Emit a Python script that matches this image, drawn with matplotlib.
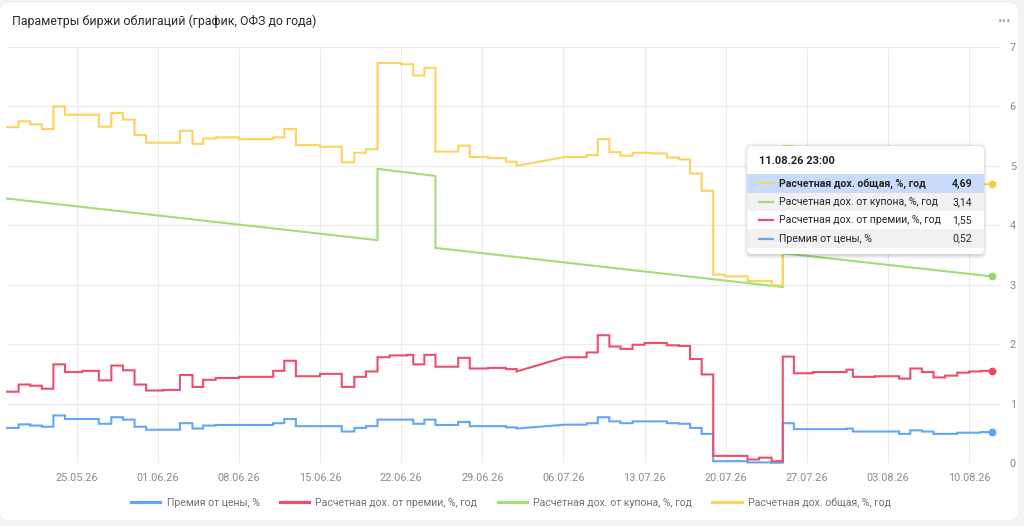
import matplotlib
matplotlib.use('Agg')
import matplotlib.pyplot as plt
import matplotlib.dates as mdates
from matplotlib.patches import FancyBboxPatch, Rectangle
from matplotlib.lines import Line2D
from matplotlib.transforms import IdentityTransform
import pandas as pd

plt.rcParams['font.family'] = ['Roboto', 'DejaVu Sans']

# ---------------- data ----------------
TITLE = 'Параметры биржи облигаций (график, ОФЗ до года)'
TOOLTIP_TIME = '11.08.26 23:00'
names = ['Премия от цены, %',
         'Расчетная дох. от премии, %, год',
         'Расчетная дох. от купона, %, год',
         'Расчетная дох. общая, %, год']
colors = ['#62a7f4', '#ec4f6e', '#a2dd76', '#fbd45f']
marker_colors = ['#5aa2f2', '#ea4665', '#98d66b', '#f9c94a']

# Расчетная дох. общая (step series)
total_t = ['05-19 00', '05-20 00', '05-21 00', '05-22 00', '05-23 00', '05-24 00',
           '05-26 22', '05-28 00', '05-29 00', '05-30 00', '05-31 00', '06-02 22',
           '06-04 00', '06-04 22', '06-06 00', '06-08 00', '06-10 23', '06-11 22',
           '06-12 22', '06-15 00', '06-16 21', '06-17 23', '06-18 23', '06-19 23',
           '06-22 00', '06-23 01', '06-24 00', '06-24 23', '06-26 22', '06-27 22',
           '06-29 12', '07-01 01', '07-01 23', '07-06 03', '07-08 00', '07-08 23',
           '07-09 23', '07-10 22', '07-11 23', '07-13 12', '07-14 22', '07-15 23',
           '07-16 22', '07-17 22', '07-18 22', '07-19 22', '07-21 21', '07-23 23',
           '07-24 22', '07-25 21', '07-30 10', '07-30 23', '08-01 21', '08-03 23',
           '08-04 22', '08-05 22', '08-06 22', '08-07 22', '08-08 23', '08-11 00',
           '08-11 23']
total_v = [5.65, 5.75, 5.70, 5.62, 6.00, 5.86,
           5.66, 5.89, 5.78, 5.52, 5.39, 5.59,
           5.37, 5.46, 5.48, 5.45, 5.48, 5.62,
           5.35, 5.32, 5.06, 5.22, 5.28, 6.73,
           6.71, 6.52, 6.65, 5.24, 5.34, 5.15,
           5.13, 5.07, 5.00, 5.15, 5.18, 5.45,
           5.23, 5.17, 5.22, 5.21, 5.14, 5.11,
           4.87, 4.58, 3.17, 3.14, 3.06, 2.99,
           5.33, 5.04, 5.08, 4.96, 4.97, 4.90,
           5.06, 4.99, 4.89, 4.91, 4.83, 4.69,
           4.69]

# Расчетная дох. от премии (step series)
prem_t = ['05-19 00', '05-20 00', '05-21 00', '05-22 00', '05-23 00', '05-24 00',
          '05-25 12', '05-26 22', '05-28 00', '05-29 00', '05-30 00', '05-31 00',
          '06-01 12', '06-02 22', '06-04 00', '06-04 22', '06-06 00', '06-08 00',
          '06-10 23', '06-11 22', '06-12 22', '06-15 00', '06-16 21', '06-17 23',
          '06-18 23', '06-19 23', '06-21 00', '06-22 12', '06-23 01', '06-24 00',
          '06-24 23', '06-26 22', '06-27 22', '06-29 12', '07-01 01', '07-01 23',
          '07-06 03', '07-08 00', '07-08 23', '07-09 23', '07-10 22', '07-11 23',
          '07-13 00', '07-14 22', '07-15 23', '07-16 22', '07-17 22', '07-18 22',
          '07-21 21', '07-22 21', '07-23 23', '07-24 22', '07-25 21', '07-27 12',
          '07-30 10', '07-30 23', '08-01 21', '08-03 23', '08-04 22', '08-05 22',
          '08-06 22', '08-07 22', '08-08 23', '08-10 00', '08-11 00', '08-11 23']
prem_v = [1.20, 1.32, 1.30, 1.25, 1.66, 1.53,
          1.55, 1.39, 1.64, 1.56, 1.32, 1.22,
          1.23, 1.48, 1.28, 1.40, 1.43, 1.45,
          1.55, 1.72, 1.46, 1.50, 1.28, 1.45,
          1.54, 1.78, 1.81, 1.82, 1.66, 1.82,
          1.62, 1.77, 1.59, 1.60, 1.58, 1.54,
          1.78, 1.86, 2.15, 1.96, 1.92, 1.99,
          2.02, 1.98, 1.97, 1.75, 1.49, 0.12,
          0.06, 0.09, 0.03, 1.79, 1.51, 1.53,
          1.57, 1.45, 1.46, 1.42, 1.59, 1.53,
          1.44, 1.47, 1.52, 1.54, 1.55, 1.55]

# Премия от цены (step series)
price_t = ['05-19 00', '05-20 00', '05-21 00', '05-22 00', '05-23 00', '05-24 00',
           '05-26 22', '05-28 00', '05-29 00', '05-30 00', '05-31 00', '06-02 22',
           '06-04 00', '06-04 22', '06-06 00', '06-10 23', '06-11 22', '06-12 22',
           '06-16 21', '06-17 23', '06-18 23', '06-19 23', '06-23 01', '06-24 00',
           '06-24 23', '06-26 22', '06-27 22', '07-01 01', '07-01 23', '07-06 03',
           '07-08 00', '07-08 23', '07-09 23', '07-10 22', '07-11 23', '07-14 22',
           '07-15 23', '07-16 22', '07-17 22', '07-18 22', '07-21 21', '07-23 23',
           '07-24 22', '07-25 21', '07-30 10', '07-30 23', '08-03 23', '08-04 22',
           '08-05 22', '08-06 22', '08-08 23', '08-11 00', '08-11 23']
price_v = [0.59, 0.65, 0.63, 0.61, 0.80, 0.74,
           0.66, 0.77, 0.73, 0.61, 0.56, 0.67,
           0.58, 0.63, 0.64, 0.67, 0.74, 0.62,
           0.53, 0.59, 0.62, 0.73, 0.66, 0.73,
           0.64, 0.69, 0.62, 0.60, 0.58, 0.645,
           0.67, 0.77, 0.70, 0.67, 0.70, 0.67,
           0.66, 0.59, 0.49, 0.03, 0.01, 0.005,
           0.67, 0.57, 0.58, 0.53, 0.49, 0.55,
           0.53, 0.49, 0.51, 0.52, 0.52]

# Расчетная дох. от купона (piecewise linear, jumps as repeated times)
coupon_t = ['05-19 00', '06-19 23', '06-19 23', '06-24 23', '06-24 23',
            '07-24 22', '07-24 22', '08-11 23']
coupon_v = [4.45, 3.75, 4.95, 4.83, 3.62, 2.96, 3.53, 3.14]

# data gap: the value at this time is reached by a straight line
linear_times = {'07-06 03'}

YEAR = '2026-'


def to_dt(ts):
    return pd.to_datetime([YEAR + t + ':00' for t in ts])


def step_xy(times, vals):
    xs, ys = [], []
    for i, (t, v) in enumerate(zip(times, vals)):
        if i > 0 and t not in linear_times:
            xs.append(t)
            ys.append(vals[i - 1])
        xs.append(t)
        ys.append(v)
    return to_dt(xs), ys


# ---------------- figure ----------------
W, H = 1024, 526
fig = plt.figure(figsize=(W / 100, H / 100), dpi=100)
fig.patch.set_facecolor('#f2f3f5')
ID = IdentityTransform()


def Y(y):
    return H - y


card = FancyBboxPatch((0, Y(520)), 1018, 517,
                      boxstyle='round,pad=0,rounding_size=9',
                      transform=ID, fc='white', ec='none', zorder=-10)
fig.add_artist(card)

fig.text(12, Y(21), TITLE, transform=ID, fontsize=8.9, color='#2b2b2b',
         va='center', ha='left')
fig.text(1005, Y(21), '•••', transform=ID, fontsize=5.5, color='#9a9a9a',
         va='center', ha='center', family='DejaVu Sans')

ax = fig.add_axes([7 / W, 1 - 463 / H, 993 / W, 416 / H])
ax.set_facecolor('none')
for s in ax.spines.values():
    s.set_visible(False)
ax.set_ylim(0, 7)
ax.set_xlim(pd.Timestamp('2026-05-19 00:00'), pd.Timestamp('2026-08-12 15:40'))
ax.yaxis.tick_right()
ax.set_yticks(range(0, 8))
ax.tick_params(axis='y', length=0, pad=7, labelsize=7.8, labelcolor='#8a8a8a')
ax.xaxis.set_major_locator(mdates.WeekdayLocator(byweekday=mdates.MO))
ax.xaxis.set_major_formatter(mdates.DateFormatter('%d.%m.%y'))
ax.tick_params(axis='x', length=0, pad=7, labelsize=7.8, labelcolor='#8a8a8a')
ax.grid(True, color='#ebebeb', lw=0.8)
ax.set_axisbelow(True)

series = [step_xy(price_t, price_v), step_xy(prem_t, prem_v),
          (to_dt(coupon_t), coupon_v), step_xy(total_t, total_v)]
handles = []
for (xs, ys), c, mc, n in zip(series, colors, marker_colors, names):
    ax.plot(xs, ys, color=c, lw=1.5, solid_joinstyle='miter',
            clip_on=False, label=n, zorder=3)
    ax.plot(xs[-1:], ys[-1:], 'o', color=mc, ms=5.6, mec=mc, mew=0,
            clip_on=False, zorder=4)
    handles.append(Line2D([], [], color=c, lw=2.3))

fig.legend(handles, names, loc='center', bbox_to_anchor=(511 / W, 1 - 503 / H),
           ncol=4, frameon=False, fontsize=7.6, handlelength=2.8,
           handletextpad=0.6, columnspacing=1.9, labelcolor='#727272')

# ---------------- tooltip ----------------
tx0, tx1, ty0, ty1 = 747, 984, 146, 254
for k, a in [(4, 0.025), (3, 0.035), (2, 0.045), (1, 0.055)]:
    fig.add_artist(FancyBboxPatch((tx0 - k + 1, Y(ty1 + k + 1)),
                                  tx1 - tx0 + 2 * k - 2, ty1 - ty0 + 2 * k,
                                  boxstyle='round,pad=0,rounding_size=6',
                                  transform=ID, fc='black', ec='none',
                                  alpha=a, zorder=5))
fig.add_artist(FancyBboxPatch((tx0, Y(ty1)), tx1 - tx0, ty1 - ty0,
                              boxstyle='round,pad=0,rounding_size=5',
                              transform=ID, fc='white', ec='none', zorder=6))
fig.text(759, Y(161.5), TOOLTIP_TIME, transform=ID, fontsize=8,
         fontweight='bold', color='#222222', va='center', ha='left', zorder=8)

rows = [(3, '#c8dbfc'), (2, '#f1f1f1'), (1, 'white'), (0, '#f1f1f1')]
row_edges = [174.3, 192.5, 211.0, 229.3, 247.7]
for r, (idx, bg) in enumerate(rows):
    r0, r1 = row_edges[r], row_edges[r + 1]
    fig.add_artist(Rectangle((tx0, Y(r1)), tx1 - tx0, r1 - r0, transform=ID,
                             fc=bg, ec='none', zorder=7))
    yc = (r0 + r1) / 2
    fig.add_artist(Line2D([759, 773], [Y(yc), Y(yc)], transform=ID,
                          color=colors[idx], lw=1.6, zorder=8))
    bold = 'bold' if r == 0 else 'normal'
    last = series[idx][1][-1]
    fig.text(779, Y(yc), names[idx], transform=ID, fontsize=7.6, fontweight=bold,
             color='#262626', va='center', ha='left', zorder=8)
    fig.text(972, Y(yc), f'{last:.2f}'.replace('.', ','), transform=ID,
             fontsize=7.6, fontweight=bold, color='#262626', va='center',
             ha='right', zorder=8)

fig.savefig('out.png', dpi=100, facecolor=fig.get_facecolor())
